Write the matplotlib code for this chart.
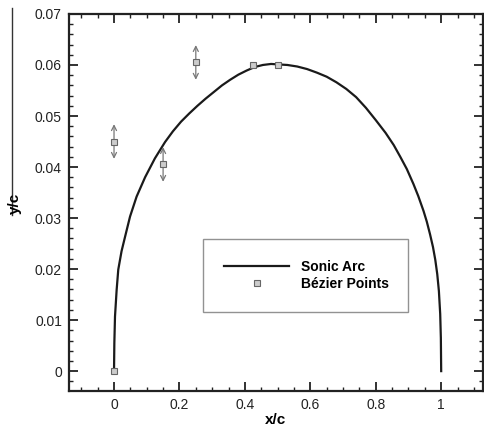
import numpy as np
import matplotlib
matplotlib.use('Agg')
import matplotlib.pyplot as plt
from matplotlib.lines import Line2D
from matplotlib.ticker import MultipleLocator

plt.rcParams['font.family'] = ['Liberation Sans', 'DejaVu Sans']

# sonic arc
arc_x = [0, 0.001, 0.003, 0.008, 0.013, 0.023, 0.034, 0.049, 0.069, 0.095, 0.125, 0.156,
         0.18, 0.205, 0.23, 0.255, 0.28, 0.305, 0.33, 0.355, 0.38, 0.405, 0.43, 0.455,
         0.48, 0.505, 0.53, 0.56, 0.59, 0.62, 0.65, 0.68, 0.71, 0.74, 0.77, 0.80,
         0.83, 0.855, 0.875, 0.895, 0.915, 0.93, 0.946, 0.956, 0.966, 0.975, 0.982,
         0.988, 0.993, 0.997, 0.999, 1.0]
arc_y = [0, 0.0055, 0.0107, 0.0159, 0.0199, 0.0235, 0.0264, 0.0303, 0.0342, 0.038, 0.0417, 0.0449,
         0.047, 0.0489, 0.0505, 0.052, 0.0534, 0.0547, 0.056, 0.0571, 0.0581, 0.0589, 0.0596, 0.06,
         0.0602, 0.0601, 0.06, 0.0597, 0.0592, 0.0585, 0.0577, 0.0566, 0.0553, 0.0537, 0.0516, 0.0492,
         0.0467, 0.0443, 0.042, 0.0396, 0.0367, 0.0343, 0.0314, 0.0293, 0.0268, 0.0243, 0.0218,
         0.019, 0.0157, 0.0112, 0.0065, 0.0]

# bezier control points
bez_x = [0, 0, 0.15, 0.25, 0.425, 0.5]
bez_y = [0, 0.045, 0.0405, 0.0605, 0.06, 0.06]
movable = [1, 2, 3]   # points drawn with up/down arrows
arrow_half = 0.0034

fig = plt.figure(figsize=(4.85, 4.28), dpi=100)
ax = fig.add_axes([0.142, 0.0864, 0.854, 0.881])

ax.plot(arc_x, arc_y, color='#1a1a1a', lw=1.6, label='Sonic Arc', zorder=3,
        solid_joinstyle='round')

for i in movable:
    ax.annotate('', xy=(bez_x[i], bez_y[i] + arrow_half), xytext=(bez_x[i], bez_y[i] - arrow_half),
                arrowprops=dict(arrowstyle='<->', color='#777777', lw=0.9,
                                mutation_scale=9, shrinkA=0, shrinkB=0), zorder=4)

ax.plot(bez_x, bez_y, 's', ms=5, mfc='#cccccc', mec='#666666', mew=0.8,
        ls='none', label='Bézier Points', zorder=5)

ax.set_xlim(-0.138, 1.128)
ax.set_ylim(-0.0039, 0.07)
ax.xaxis.set_minor_locator(MultipleLocator(0.05))
ax.yaxis.set_minor_locator(MultipleLocator(0.002))
ax.set_xticks([0, 0.2, 0.4, 0.6, 0.8, 1])
ax.set_xticklabels(['0', '0.2', '0.4', '0.6', '0.8', '1'])
ax.set_yticks([0, 0.01, 0.02, 0.03, 0.04, 0.05, 0.06, 0.07])
ax.set_yticklabels(['0', '0.01', '0.02', '0.03', '0.04', '0.05', '0.06', '0.07'])

ax.tick_params(which='both', direction='in', top=True, right=True, width=1.3,
               labelsize=10, colors='#222222')
ax.tick_params(which='major', length=6.5, pad=5)
ax.tick_params(which='minor', length=3, width=1)
for s in ax.spines.values():
    s.set_linewidth(1.6)
    s.set_color('#222222')

ax.set_xlabel('x/c', fontsize=11, fontweight='bold', labelpad=1)
fig.text(0.031, 0.525, 'y/c', rotation=90, fontsize=11, fontweight='bold',
         ha='center', va='center')
fig.add_artist(Line2D([0.024, 0.024], [1 - 8 / 428, 1 - 215 / 428], color='#333333', lw=1.0))

leg = ax.legend(loc='lower left', bbox_to_anchor=(0.324, 0.2095, 0.495, 0.188), mode='expand',
                borderaxespad=0, frameon=True, fancybox=False,
                prop={'weight': 'bold', 'size': 10},
                handlelength=4.7, borderpad=1.5, labelspacing=0.25, handletextpad=0.85)
leg.get_frame().set_edgecolor('#777777')
leg.get_frame().set_linewidth(1.0)

fig.savefig('out.png', dpi=100)
